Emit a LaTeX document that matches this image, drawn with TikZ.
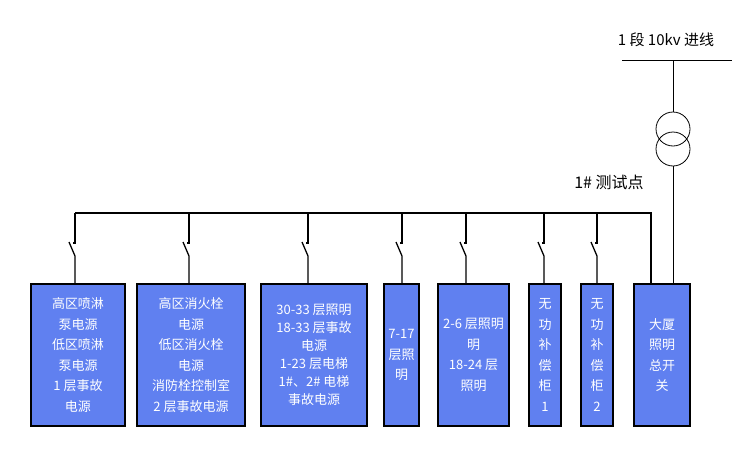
\documentclass[tikz,border=0pt]{standalone}
\usepackage{fontspec}
\setmainfont{Noto Sans CJK SC}
\usetikzlibrary{positioning}
\definecolor{feedblue}{RGB}{96, 128, 240}

\begin{document}
\begin{tikzpicture}[x=1pt, y=-1pt,
    feeder/.style={rectangle, draw=black, line width=2pt, fill=feedblue,
                   text=white, font=\fontsize{13}{20.5}\selectfont, align=center,
                   anchor=north west, inner sep=1pt},
    wire/.style={line width=1.3pt, black},
    thin wire/.style={line width=0.8pt, black}
]
\useasboundingbox (0,0) rectangle (750,450);

% Incoming line and transformer
\node[font=\fontsize{15}{17}\selectfont] (incoming) at (666,40) {1 段 10kv 进线};
\coordinate (inleft) at (622,60);
\coordinate (inright) at (732,60);
\draw[thin wire] (inleft) -- (inright);
\node[circle, draw, thin wire, minimum size=34pt, inner sep=0pt] (tup) at (673,129) {};
\node[circle, draw, thin wire, minimum size=34pt, inner sep=0pt] (tdown) at (673,149) {};
\node[font=\fontsize{16}{18}\selectfont] (testpt) at (609,182) {1\# 测试点};

% Feeder boxes
\node[feeder, minimum width=94pt, minimum height=142pt] (b1) at (30,283) {高区喷淋\\泵电源\\低区喷淋\\泵电源\\1 层事故\\电源};
\node[feeder, minimum width=108pt, minimum height=142pt] (b2) at (136,283) {高区消火栓\\电源\\低区消火栓\\电源\\消防栓控制室\\2 层事故电源};
\node[feeder, minimum width=106pt, minimum height=142pt, font=\fontsize{13}{18}\selectfont] (b3) at (260,283) {30-33 层照明\\18-33 层事故\\电源\\1-23 层电梯\\1\#、2\# 电梯\\事故电源};
\node[feeder, minimum width=35pt, minimum height=142pt] (b4) at (383,283) {7-17\\层照\\明};
\node[feeder, minimum width=71pt, minimum height=142pt] (b5) at (437,283) {2-6 层照明\\明\\18-24 层\\照明};
\node[feeder, minimum width=32pt, minimum height=142pt] (b6) at (528,283) {无\\功\\补\\偿\\柜\\1};
\node[feeder, minimum width=32pt, minimum height=142pt] (b7) at (580,283) {无\\功\\补\\偿\\柜\\2};
\node[feeder, minimum width=56pt, minimum height=142pt] (b8) at (633,283) {大厦\\照明\\总开\\关};

% Incoming to main switch
\draw[thin wire] (673,60) -- (tup.north);
\draw[thin wire] (tdown.south) -- (673,283);

% Bus
\coordinate (busleft) at (75,213);
\coordinate (busright) at (651,213);
\draw[wire] (busleft) -- (busright) -- (651,283);

% Feeders with switches
\foreach \x/\b in {75/b1, 189/b2, 308/b3, 402/b4, 466/b5, 544/b6, 597/b7} {
  \draw[wire] (\x,213) -- (\x,243) -- ++(-2,0);
  \draw[wire] (\x-6,242) -- (\x,256) -- (\x,283);
}
\end{tikzpicture}
\end{document}
